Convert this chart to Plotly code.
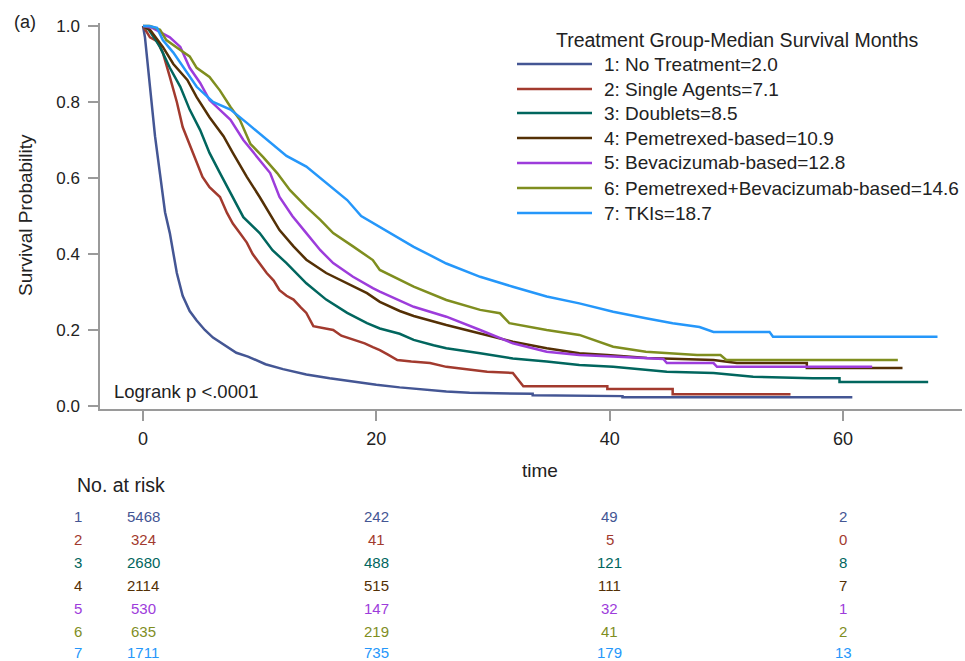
import plotly.graph_objects as go

# ---------------- data ----------------
group_names = ["1: No Treatment=2.0", "2: Single Agents=7.1", "3: Doublets=8.5",
               "4: Pemetrexed-based=10.9", "5: Bevacizumab-based=12.8",
               "6: Pemetrexed+Bevacizumab-based=14.6", "7: TKIs=18.7"]
colors = ["#445694", "#A23A2E", "#01665E", "#543005", "#9D3CDB", "#7F8E1F", "#2597FA"]

t1 = [0, 0.17, 0.6, 1.03, 1.46, 1.89, 2.3, 2.9, 3.4, 4.0, 4.6, 5.3, 6.0, 7.0, 8.0, 9.0, 10.5, 12.0,
      14.0, 16.0, 18.0, 20.0, 22.0, 24.0, 26.0, 28.0, 29.7, 33.4, 33.4, 41.1, 41.1, 60.8]
s1 = [1.0, 0.97, 0.84, 0.71, 0.61, 0.51, 0.455, 0.35, 0.29, 0.25, 0.225, 0.20, 0.18, 0.16, 0.14, 0.13,
      0.11, 0.097, 0.083, 0.073, 0.064, 0.056, 0.049, 0.043, 0.038, 0.035, 0.034, 0.032, 0.028, 0.026, 0.023, 0.023]

t2 = [0, 0.6, 1.2, 1.7, 2.3, 2.9, 3.4, 4.3, 5.1, 5.7, 6.6, 7.2, 7.7, 8.3, 8.9, 9.4, 10.0, 10.6, 11.2,
      11.7, 12.3, 12.9, 13.5, 14.0, 14.6, 15.4, 16.3, 17.0, 18.0, 19.0, 19.7, 20.3, 21.0, 21.8, 23.0,
      24.6, 26.0, 28.0, 29.5, 31.7, 32.0, 32.6, 39.8, 39.8, 45.4, 45.4, 55.5]
s2 = [1.0, 0.97, 0.96, 0.93, 0.866, 0.80, 0.734, 0.666, 0.603, 0.576, 0.55, 0.508, 0.48, 0.455, 0.43,
      0.40, 0.375, 0.35, 0.33, 0.305, 0.29, 0.28, 0.26, 0.245, 0.21, 0.205, 0.20, 0.185, 0.174, 0.165,
      0.155, 0.147, 0.135, 0.121, 0.117, 0.113, 0.103, 0.095, 0.09, 0.087, 0.075, 0.052, 0.052, 0.045,
      0.045, 0.031, 0.031]

t3 = [0, 0.5, 1.46, 2.3, 3.2, 4.0, 4.9, 5.7, 6.6, 7.7, 8.6, 10.0, 11.1, 12.3, 14.0, 15.7, 17.5, 19.2,
      20.3, 22.0, 23.2, 24.9, 26.0, 28.9, 31.7, 34.6, 37.4, 40.3, 43.1, 44.9, 48.9, 52.3, 57.4, 59.7,
      59.7, 67.3]
s3 = [1.0, 0.99, 0.945, 0.89, 0.84, 0.78, 0.726, 0.666, 0.613, 0.55, 0.497, 0.455, 0.41, 0.376, 0.323,
      0.28, 0.245, 0.218, 0.204, 0.19, 0.174, 0.16, 0.152, 0.139, 0.125, 0.117, 0.108, 0.103, 0.095,
      0.09, 0.087, 0.077, 0.073, 0.073, 0.063, 0.063]

t4 = [0, 0.6, 1.7, 2.6, 3.8, 4.6, 5.7, 6.9, 7.7, 8.9, 10.0, 10.9, 11.7, 12.9, 14.0, 15.7, 17.5, 19.2,
      20.3, 22.0, 23.2, 26.0, 28.9, 31.7, 34.6, 37.4, 39.8, 43.2, 48.9, 50.9, 56.9, 56.9, 65.1]
s4 = [1.0, 0.99, 0.945, 0.90, 0.858, 0.813, 0.76, 0.71, 0.666, 0.603, 0.55, 0.505, 0.463, 0.42, 0.385,
      0.35, 0.323, 0.297, 0.274, 0.25, 0.237, 0.213, 0.191, 0.169, 0.152, 0.139, 0.134, 0.126, 0.121,
      0.113, 0.113, 0.10, 0.10]

t5 = [0, 0.8, 2.3, 3.2, 4.0, 4.9, 5.7, 6.6, 7.5, 8.6, 9.8, 10.9, 11.7, 12.8, 14.0, 15.2, 16.3, 18.0,
      19.7, 20.3, 23.2, 26.0, 28.9, 31.7, 34.6, 37.4, 40.3, 44.6, 44.9, 48.9, 49.2, 62.5]
s5 = [1.0, 0.995, 0.97, 0.945, 0.89, 0.85, 0.805, 0.78, 0.753, 0.70, 0.655, 0.613, 0.55, 0.50, 0.455,
      0.41, 0.376, 0.34, 0.31, 0.301, 0.261, 0.235, 0.20, 0.165, 0.143, 0.134, 0.13, 0.124, 0.113,
      0.113, 0.103, 0.103]

t6 = [0, 0.6, 1.46, 2.0, 3.2, 4.0, 4.6, 5.7, 6.6, 7.5, 8.3, 9.2, 10.3, 11.5, 12.6, 14.0, 15.2, 16.3,
      18.0, 19.7, 20.3, 23.2, 26.0, 28.9, 30.6, 31.4, 34.6, 37.4, 40.3, 43.1, 47.5, 49.5, 50.0, 64.7]
s6 = [1.0, 1.0, 0.99, 0.963, 0.937, 0.92, 0.89, 0.866, 0.83, 0.787, 0.753, 0.69, 0.655, 0.613, 0.568,
      0.524, 0.49, 0.455, 0.42, 0.384, 0.358, 0.314, 0.279, 0.253, 0.244, 0.218, 0.20, 0.187, 0.156,
      0.143, 0.134, 0.134, 0.121, 0.121]

t7 = [0, 0.5, 1.2, 1.7, 2.6, 3.8, 4.6, 6.0, 7.5, 8.9, 10.3, 12.3, 14.0, 15.7, 17.5, 18.7, 20.3, 23.2,
      26.0, 28.9, 31.7, 34.6, 37.4, 40.3, 43.1, 45.4, 47.7, 48.9, 53.7, 54.0, 68.1]
s7 = [1.0, 1.0, 0.995, 0.963, 0.93, 0.876, 0.84, 0.80, 0.78, 0.745, 0.71, 0.658, 0.63, 0.586, 0.542,
      0.50, 0.472, 0.419, 0.375, 0.34, 0.314, 0.288, 0.27, 0.248, 0.231, 0.218, 0.208, 0.195, 0.195,
      0.182, 0.182]

times = [t1, t2, t3, t4, t5, t6, t7]
survs = [s1, s2, s3, s4, s5, s6, s7]

risk_times = [0, 20, 40, 60]
risk_1 = [5468, 242, 49, 2]
risk_2 = [324, 41, 5, 0]
risk_3 = [2680, 488, 121, 8]
risk_4 = [2114, 515, 111, 7]
risk_5 = [530, 147, 32, 1]
risk_6 = [635, 219, 41, 2]
risk_7 = [1711, 735, 179, 13]
risks = [risk_1, risk_2, risk_3, risk_4, risk_5, risk_6, risk_7]

x_ticks = [0, 20, 40, 60]
y_ticks = [0.0, 0.2, 0.4, 0.6, 0.8, 1.0]

# ---------------- layout geometry (pixels) ----------------
W, H = 965, 661
PL, PR, PT, PB = 100, 962, 23, 409
FONT = "Liberation Sans, Arial, sans-serif"
TXT = "#222222"
AX = "#9a9a9a"


def px(xp):
    return (xp - PL) / (PR - PL)


def py(yp):
    return (PB - yp) / (PB - PT)


fig = go.Figure()
for i in range(7):
    fig.add_trace(go.Scatter(x=times[i], y=survs[i], mode="lines", name=group_names[i],
                             line=dict(color=colors[i], width=2.5, shape="linear"),
                             showlegend=False))

ann = []
shapes = []
# legend
ann.append(dict(x=px(737), y=py(40), xref="paper", yref="paper", text="Treatment Group-Median Survival Months",
                showarrow=False, xanchor="center", yanchor="middle", font=dict(size=19.5, color=TXT, family=FONT)))
leg_y = [64, 89, 113, 138, 163, 188, 213]
for i in range(7):
    shapes.append(dict(type="line", xref="paper", yref="paper", x0=px(517), x1=px(592),
                       y0=py(leg_y[i]), y1=py(leg_y[i]), line=dict(color=colors[i], width=2.5)))
    ann.append(dict(x=px(602), y=py(leg_y[i]), xref="paper", yref="paper", text=group_names[i],
                    showarrow=False, xanchor="left", yanchor="middle", font=dict(size=19, color=TXT, family=FONT)))

ann.append(dict(x=px(112), y=py(391), xref="paper", yref="paper", text="Logrank p <.0001",
                showarrow=False, xanchor="left", yanchor="middle", font=dict(size=18.5, color=TXT, family=FONT)))
ann.append(dict(x=px(25), y=py(22), xref="paper", yref="paper", text="(a)",
                showarrow=False, xanchor="center", yanchor="middle", font=dict(size=18, color=TXT, family=FONT)))
ann.append(dict(x=px(25), y=py(215), xref="paper", yref="paper", text="Survival Probability", textangle=-90,
                showarrow=False, xanchor="center", yanchor="middle", font=dict(size=19, color=TXT, family=FONT)))
ann.append(dict(x=px(540), y=py(470), xref="paper", yref="paper", text="time",
                showarrow=False, xanchor="center", yanchor="middle", font=dict(size=19, color=TXT, family=FONT)))
ann.append(dict(x=px(75), y=py(485), xref="paper", yref="paper", text="No. at risk",
                showarrow=False, xanchor="left", yanchor="middle", font=dict(size=19.5, color=TXT, family=FONT)))

row_y = [516, 539, 562, 585, 608, 631, 652]
for i in range(7):
    ann.append(dict(x=px(78), y=py(row_y[i]), xref="paper", yref="paper", text=str(i + 1),
                    showarrow=False, xanchor="center", yanchor="middle", borderpad=0,
                    font=dict(size=15, color=colors[i], family=FONT)))
    for j, tt in enumerate(risk_times):
        ann.append(dict(x=tt, y=py(row_y[i]), xref="x", yref="paper", text=str(risks[i][j]),
                        showarrow=False, xanchor="center", yanchor="middle", borderpad=0,
                        font=dict(size=15, color=colors[i], family=FONT)))

x_scale = 700 / 60.0
y_scale = 380.0
fig.update_layout(
    width=W, height=H,
    margin=dict(l=PL, r=W - PR, t=PT, b=H - PB, pad=0),
    paper_bgcolor="white", plot_bgcolor="white",
    font=dict(family=FONT, color=TXT),
    annotations=ann, shapes=shapes,
    xaxis=dict(range=[(PL - 143) / x_scale, (PR - 143) / x_scale], tickvals=x_ticks,
               showgrid=False, zeroline=False, showline=True, linecolor=AX, linewidth=1.5,
               ticks="outside", ticklen=10, tickcolor=AX, tickwidth=1.5,
               tickfont=dict(size=18, color=TXT, family=FONT), ticklabelstandoff=3),
    yaxis=dict(range=[(406 - PB) / y_scale, (406 - PT) / y_scale], tickvals=y_ticks, tickformat=".1f",
               showgrid=False, zeroline=False, showline=True, linecolor=AX, linewidth=1.5,
               ticks="outside", ticklen=10, tickcolor=AX, tickwidth=1.5,
               tickfont=dict(size=17, color=TXT, family=FONT), ticklabelstandoff=5),
    showlegend=False,
)

fig.write_html("out.html", config={"displayModeBar": False},
               post_script="document.body.style.margin='0';document.body.style.overflow='hidden';")
